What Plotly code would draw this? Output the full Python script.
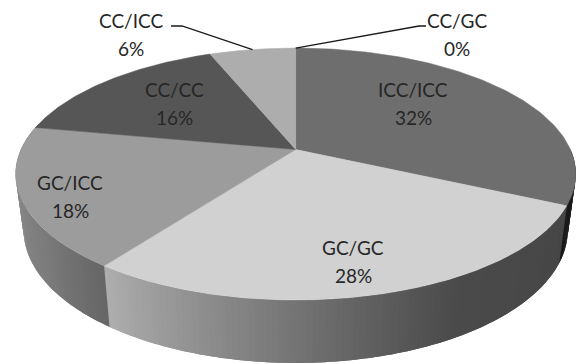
import numpy as np
import plotly.graph_objects as go

# Genotype shares, clockwise from twelve o'clock
genotypes = ["ICC/ICC", "GC/GC", "GC/ICC", "CC/CC", "CC/ICC", "CC/GC"]
shares = [32, 28, 18, 16, 6, 0]
top_colors = ["#6e6e6e", "#d1d1d1", "#9c9c9c", "#565656", "#adadad", "#adadad"]

# Label centres on the canvas: genotype line x, genotype line y, percent line y
label_x = [413, 353, 70, 174, 131, 457]
name_y = [89, 247, 182, 89, 20, 20]
pct_y = [117, 275, 210, 117, 48, 48]

WIDTH, HEIGHT = 576, 364
CX, CY = 295.7, 149.5      # apex of the top face
A, B, K = 274.7, 121.2, 0.1945   # perspective disc of the top face
A2, B2, CY2 = 266.9, 128.0, 204.0  # lower rim of the disc


def rim(theta, a=A, b=B, cy=CY):
    """Project clockwise-from-top angles (radians) onto a perspective disc."""
    c = np.sin(theta)
    s = -np.cos(theta)
    d = 1 - K * s
    return CX + a * c / d, cy + b * s / d


def wall_grey(theta):
    """Grey level of the side wall, lit from the lower left."""
    deg = np.degrees(theta)
    stops_deg = [90, 115.2, 115.21, 130, 150, 160, 170, 180, 195, 216, 216.01, 235, 255, 282]
    stops_val = [26, 26, 70, 72, 74, 86, 100, 116, 140, 174, 102, 124, 136, 122]
    return float(np.interp(deg, stops_deg, stops_val))


fig = go.Figure()

# Side wall, built from thin overlapping strips so the shading runs along the rim
edges = np.radians(np.linspace(90, 282, 193))
step = edges[1] - edges[0]
for t0, t1 in zip(edges[:-1], edges[1:]):
    tt = np.linspace(t0, t1 + step, 3)
    xt, yt = rim(tt)
    xb, yb = rim(tt, A2, B2, CY2)
    g = int(round(wall_grey((t0 + t1) / 2)))
    col = f"rgb({g},{g},{g})"
    fig.add_trace(go.Scatter(
        x=np.r_[xt, xb[::-1], xt[0]], y=np.r_[yt, yb[::-1], yt[0]],
        mode="none", fill="toself", fillcolor=col,
        hoverinfo="skip", showlegend=False,
    ))

# Top face, one wedge per genotype
total = sum(shares)
start = 0.0
mid_angles = []
for name, val, col in zip(genotypes, shares, top_colors):
    stop = start + val / total * 2 * np.pi
    mid_angles.append((start + stop) / 2)
    if val > 0:
        tt = np.linspace(start, stop, 120)
        x, y = rim(tt)
        fig.add_trace(go.Scatter(
            x=np.r_[CX, x, CX], y=np.r_[CY, y, CY],
            mode="lines", fill="toself", fillcolor=col,
            line=dict(color=col, width=0.5), name=name, showlegend=False,
        ))
    start = stop

# Leader lines for the two narrow slices, elbowing out to their labels
for name, mid, ex, ey in [("CC/ICC", mid_angles[4], 171, 26), ("CC/GC", mid_angles[5], 426, 26)]:
    px, py = rim(np.array([mid]))
    elbow = ex + 11 if ex < CX else ex - 7
    fig.add_trace(go.Scatter(
        x=[ex, elbow, px[0]], y=[ey, ey, py[0]], mode="lines",
        line=dict(color="#1a1a1a", width=1.3), hoverinfo="skip", showlegend=False,
    ))

label_font = dict(family="Lato", size=19, color="#262626")
for name, val, lx, ny, py in zip(genotypes, shares, label_x, name_y, pct_y):
    fig.add_annotation(x=lx, y=ny, text=name, showarrow=False, font=label_font)
    fig.add_annotation(x=lx, y=py, text=f"{val}%", showarrow=False, font=label_font)

fig.update_layout(
    width=WIDTH, height=HEIGHT, margin=dict(l=0, r=0, t=0, b=0),
    paper_bgcolor="white", plot_bgcolor="white",
    xaxis=dict(range=[0, WIDTH], visible=False, fixedrange=True),
    yaxis=dict(range=[HEIGHT, 0], visible=False, fixedrange=True),
)
fig.write_html("out.html", config={"displayModeBar": False})
